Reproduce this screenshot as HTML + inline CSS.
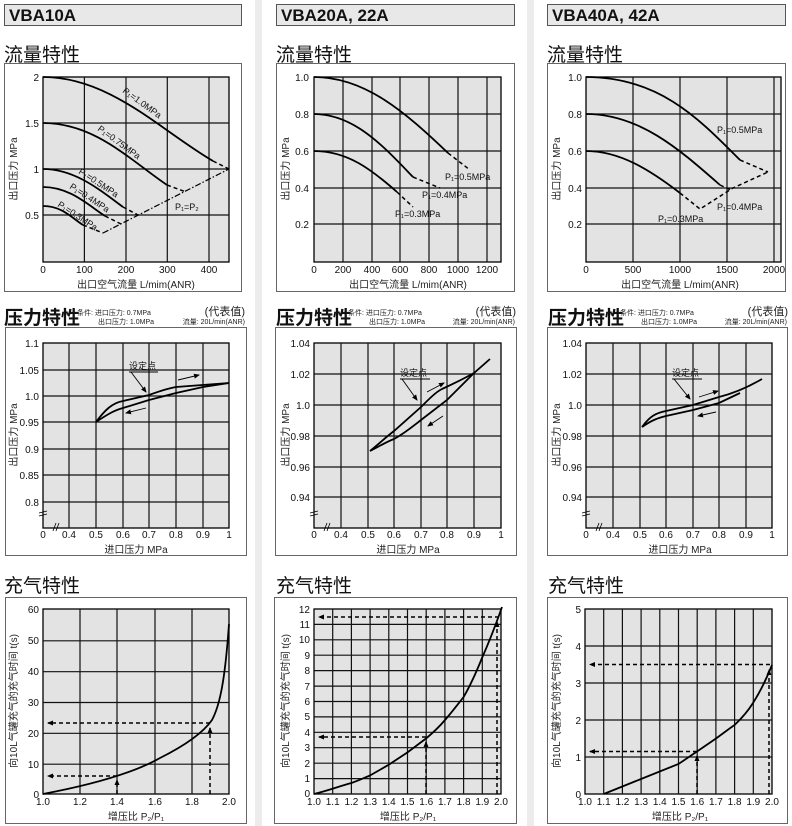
<!DOCTYPE html>
<html><head><meta charset="utf-8"><style>
html,body{margin:0;padding:0;background:#fff;}
svg{display:block;font-family:"Liberation Sans","Noto Sans CJK SC",sans-serif;}
.pf{fill:#e3e3e3;stroke:#000;stroke-width:1.3}
.g{stroke:#111;stroke-width:1.2;fill:none}
.c{stroke:#000;stroke-width:1.8;fill:none}
.d{stroke:#000;stroke-width:1.5;fill:none;stroke-dasharray:4,3}
.t{font-size:10px;fill:#111}
.s{font-size:9px;fill:#111}
.hd{font-size:17px;font-weight:bold;fill:#111}
.ti{font-size:19px;fill:#111;font-family:"Noto Sans CJK SC",sans-serif}
.ax{font-size:10px;fill:#222}
.pan{fill:#fff;stroke:#666;stroke-width:1}
</style></head><body>
<svg width="792" height="826" viewBox="0 0 792 826" xmlns="http://www.w3.org/2000/svg">
<defs><marker id="ah" markerWidth="6" markerHeight="6" refX="5" refY="3" orient="auto" markerUnits="userSpaceOnUse"><path d="M0,0.5 L6,3 L0,5.5 z" fill="#000"/></marker></defs>
<rect x="255" y="0" width="7" height="826" fill="#ececec"/>
<rect x="527" y="0" width="7" height="826" fill="#ececec"/>

<!-- headers -->
<rect x="4.5" y="4.5" width="237" height="21" fill="#e8e8e8" stroke="#555"/>
<text x="9" y="21" class="hd">VBA10A</text>
<rect x="276.5" y="4.5" width="238" height="21" fill="#e8e8e8" stroke="#555"/>
<text x="281" y="21" class="hd">VBA20A, 22A</text>
<rect x="547.5" y="4.5" width="238" height="21" fill="#e8e8e8" stroke="#555"/>
<text x="552" y="21" class="hd">VBA40A, 42A</text>

<text x="4" y="61" class="ti">流量特性</text>
<text x="276" y="61" class="ti">流量特性</text>
<text x="547" y="61" class="ti">流量特性</text>
<text x="4" y="324" class="ti" font-weight="bold" font-size="18px">压力特性</text>
<text x="276" y="324" class="ti" font-weight="bold" font-size="18px">压力特性</text>
<text x="548" y="324" class="ti" font-weight="bold" font-size="18px">压力特性</text>
<text x="4" y="592" class="ti">充气特性</text>
<text x="276" y="592" class="ti">充气特性</text>
<text x="548" y="592" class="ti">充气特性</text>

<!-- ===== TOP ROW ===== -->
<rect x="4.5" y="63.5" width="237" height="228" class="pan"/>
<rect x="276.5" y="63.5" width="238" height="228" class="pan"/>
<rect x="547.5" y="63.5" width="238" height="228" class="pan"/>

<!-- col1 top -->
<rect x="43" y="77" width="186" height="185" class="pf"/>
<path class="g" d="M84.4,77V262M126,77V262M167.3,77V262M209,77V262M43,123H229M43,169H229M43,215H229"/>
<g class="t" text-anchor="end"><text x="39" y="81">2</text><text x="39" y="127">1.5</text><text x="39" y="173">1</text><text x="39" y="219">0.5</text></g>
<g class="t" text-anchor="middle"><text x="43" y="273">0</text><text x="84.4" y="273">100</text><text x="126" y="273">200</text><text x="167.3" y="273">300</text><text x="209" y="273">400</text></g>
<text x="136" y="288" class="ax" text-anchor="middle">出口空气流量 L/mim(ANR)</text>
<text transform="translate(17,169) rotate(-90)" class="ax" text-anchor="middle">出口压力 MPa</text>
<path class="c" d="M43,77 C110,77 160,130 213,161"/><path class="d" d="M213,161 L229,169"/>
<path class="c" d="M43,123 C95,123 130,160 167,185"/><path class="d" d="M167,185 L186,192"/>
<path class="c" d="M43,169 C75,169 100,190 123,207"/><path class="d" d="M123,207 L138,215"/>
<path class="c" d="M43,187 C70,187 88,205 105,216"/><path class="d" d="M105,216 L121,224"/>
<path class="c" d="M43,206 C62,206 72,218 83,225"/><path class="d" d="M83,225 L103,233"/>
<path d="M103,233 L229,169" stroke="#000" stroke-width="1.2" fill="none" stroke-dasharray="6,2,1.5,2"/>
<g class="s">
<text transform="translate(122,92) rotate(36)">P₁=1.0MPa</text>
<text transform="translate(97,130) rotate(36)">P₁=0.75MPa</text>
<text transform="translate(78,173) rotate(33)">P₁=0.5MPa</text>
<text transform="translate(69,188) rotate(33)">P₁=0.4MPa</text>
<text transform="translate(57,206) rotate(33)">P₁=0.3MPa</text>
<text x="175" y="210">P₁=P₂</text>
</g>

<!-- col2 top -->
<rect x="314" y="77" width="187" height="185" class="pf"/>
<path class="g" d="M343,77V262M372,77V262M400,77V262M429,77V262M458,77V262M487,77V262M314,114H501M314,151H501M314,188H501M314,224H501"/>
<g class="t" text-anchor="end"><text x="309" y="81">1.0</text><text x="309" y="118">0.8</text><text x="309" y="155">0.6</text><text x="309" y="192">0.4</text><text x="309" y="228">0.2</text></g>
<g class="t" text-anchor="middle"><text x="314" y="273">0</text><text x="343" y="273">200</text><text x="372" y="273">400</text><text x="400" y="273">600</text><text x="429" y="273">800</text><text x="458" y="273">1000</text><text x="487" y="273">1200</text></g>
<text x="408" y="288" class="ax" text-anchor="middle">出口空气流量 L/mim(ANR)</text>
<text transform="translate(289,169) rotate(-90)" class="ax" text-anchor="middle">出口压力 MPa</text>
<path class="c" d="M314,77 C365,77 405,112 448,153"/><path class="d" d="M448,153 L470,170"/>
<path class="c" d="M314,114 C355,114 385,148 413,177"/><path class="d" d="M413,177 L440,188"/>
<path class="c" d="M314,151 C348,151 372,170 397,192"/><path class="d" d="M397,192 L413,207"/>
<g class="s"><text x="445" y="180">P₁=0.5MPa</text><text x="422" y="198">P₁=0.4MPa</text><text x="395" y="217">P₁=0.3MPa</text></g>

<!-- col3 top -->
<rect x="586" y="77" width="195" height="185" class="pf"/>
<path class="g" d="M633,77V262M680,77V262M727,77V262M774,77V262M586,114H781M586,151H781M586,188H781M586,224H781"/>
<g class="t" text-anchor="end"><text x="582" y="81">1.0</text><text x="582" y="118">0.8</text><text x="582" y="155">0.6</text><text x="582" y="192">0.4</text><text x="582" y="228">0.2</text></g>
<g class="t" text-anchor="middle"><text x="586" y="273">0</text><text x="633" y="273">500</text><text x="680" y="273">1000</text><text x="727" y="273">1500</text><text x="774" y="273">2000</text></g>
<text x="680" y="288" class="ax" text-anchor="middle">出口空气流量 L/mim(ANR)</text>
<text transform="translate(560,169) rotate(-90)" class="ax" text-anchor="middle">出口压力 MPa</text>
<path class="c" d="M586,77 C660,77 700,120 740,160"/><path class="d" d="M740,160 L768,172"/>
<path class="c" d="M586,114 C640,114 680,150 720,185"/><path class="d" d="M720,185 L731,190"/>
<path class="c" d="M586,151 C620,151 650,170 680,193"/><path class="d" d="M680,193 L700,209 L733,188 L768,172"/>
<g class="s"><text x="717" y="133">P₁=0.5MPa</text><text x="717" y="210">P₁=0.4MPa</text><text x="658" y="222">P₁=0.3MPa</text></g>

<!-- ===== MIDDLE ROW ===== -->
<rect x="5.5" y="327.5" width="241" height="228" class="pan"/>
<rect x="275.5" y="327.5" width="241" height="228" class="pan"/>
<rect x="547.5" y="327.5" width="240" height="228" class="pan"/>
<g font-size="7px" fill="#222">
<text x="77" y="315">条件: 进口压力: 0.7MPa</text><text x="98" y="324">出口压力: 1.0MPa</text><text x="245" y="324" text-anchor="end">流量: 20L/min(ANR)</text>
<text x="348" y="315">条件: 进口压力: 0.7MPa</text><text x="369" y="324">出口压力: 1.0MPa</text><text x="515" y="324" text-anchor="end">流量: 20L/min(ANR)</text>
<text x="620" y="315">条件: 进口压力: 0.7MPa</text><text x="641" y="324">出口压力: 1.0MPa</text><text x="787" y="324" text-anchor="end">流量: 20L/min(ANR)</text>
</g>
<g font-size="11px" fill="#222" text-anchor="end"><text x="245" y="315">(代表值)</text><text x="516" y="315">(代表值)</text><text x="788" y="315">(代表值)</text></g>

<!-- col1 mid -->
<rect x="43" y="343" width="186" height="185" class="pf"/>
<path class="g" d="M69,343V528M96,343V528M123,343V528M149,343V528M176,343V528M203,343V528M43,370H229M43,396H229M43,422H229M43,449H229M43,475H229M43,502H229"/>
<g class="t" text-anchor="end" font-size="9px"><text x="39" y="347">1.1</text><text x="39" y="374">1.05</text><text x="39" y="400">1.0</text><text x="39" y="426">0.95</text><text x="39" y="453">0.9</text><text x="39" y="479">0.85</text><text x="39" y="506">0.8</text></g>
<g class="t" text-anchor="middle"><text x="43" y="538">0</text><text x="69" y="538">0.4</text><text x="96" y="538">0.5</text><text x="123" y="538">0.6</text><text x="149" y="538">0.7</text><text x="176" y="538">0.8</text><text x="203" y="538">0.9</text><text x="229" y="538">1</text></g>
<text x="136" y="553" class="ax" text-anchor="middle">进口压力 MPa</text>
<text transform="translate(17,435) rotate(-90)" class="ax" text-anchor="middle">出口压力 MPa</text>
<path class="c" d="M96,422 C105,410 112,403 123,401 L149,395 C160,391 170,388 176,387 L229,383"/>
<path class="c" d="M96,422 C108,414 115,410 123,408 L149,400 L176,393 L203,387 L229,383"/>
<text x="129" y="369" font-size="9px" fill="#111">设定点</text>
<path d="M129,372 H158" stroke="#000" stroke-width="0.9"/>
<path d="M131,372 L146,392" stroke="#000" stroke-width="0.9" marker-end="url(#ah)"/>
<path d="M178,380 L199,375" stroke="#000" stroke-width="0.9" marker-end="url(#ah)"/>
<path d="M146,408 L126,413" stroke="#000" stroke-width="0.9" marker-end="url(#ah)"/>
<path d="M39,513 L47,511 M39,516 L47,514 M53,531 L56,523 M56,531 L59,523" stroke="#000" stroke-width="0.8"/>

<!-- col2 mid -->
<rect x="314" y="343" width="187" height="185" class="pf"/>
<path class="g" d="M341,343V528M368,343V528M394,343V528M421,343V528M447,343V528M474,343V528M314,374H501M314,405H501M314,436H501M314,467H501M314,497H501"/>
<g class="t" text-anchor="end" font-size="9px"><text x="310" y="347">1.04</text><text x="310" y="378">1.02</text><text x="310" y="409">1.0</text><text x="310" y="440">0.98</text><text x="310" y="471">0.96</text><text x="310" y="501">0.94</text></g>
<g class="t" text-anchor="middle"><text x="314" y="538">0</text><text x="341" y="538">0.4</text><text x="368" y="538">0.5</text><text x="394" y="538">0.6</text><text x="421" y="538">0.7</text><text x="447" y="538">0.8</text><text x="474" y="538">0.9</text><text x="501" y="538">1</text></g>
<text x="408" y="553" class="ax" text-anchor="middle">进口压力 MPa</text>
<text transform="translate(289,435) rotate(-90)" class="ax" text-anchor="middle">出口压力 MPa</text>
<path class="c" d="M370,451 C380,443 386,437 394,431 L421,407 C430,398 436,392 442,389 C455,383 465,378 474,373 L490,359"/>
<path class="c" d="M370,451 C380,446 386,442 394,439 C405,433 412,427 421,420 L447,400 L474,373"/>
<text x="400" y="376" font-size="9px" fill="#111">设定点</text>
<path d="M400,379 H430" stroke="#000" stroke-width="0.9"/>
<path d="M402,379 L417,400" stroke="#000" stroke-width="0.9" marker-end="url(#ah)"/>
<path d="M427,392 L444,383" stroke="#000" stroke-width="0.9" marker-end="url(#ah)"/>
<path d="M443,416 L428,426" stroke="#000" stroke-width="0.9" marker-end="url(#ah)"/>
<path d="M310,513 L318,511 M310,516 L318,514 M324,531 L327,523 M327,531 L330,523" stroke="#000" stroke-width="0.8"/>

<!-- col3 mid -->
<rect x="586" y="343" width="186" height="185" class="pf"/>
<path class="g" d="M613,343V528M640,343V528M666,343V528M693,343V528M719,343V528M746,343V528M586,374H772M586,405H772M586,436H772M586,467H772M586,497H772"/>
<g class="t" text-anchor="end" font-size="9px"><text x="582" y="347">1.04</text><text x="582" y="378">1.02</text><text x="582" y="409">1.0</text><text x="582" y="440">0.98</text><text x="582" y="471">0.96</text><text x="582" y="501">0.94</text></g>
<g class="t" text-anchor="middle"><text x="586" y="538">0</text><text x="613" y="538">0.4</text><text x="640" y="538">0.5</text><text x="666" y="538">0.6</text><text x="693" y="538">0.7</text><text x="719" y="538">0.8</text><text x="746" y="538">0.9</text><text x="772" y="538">1</text></g>
<text x="680" y="553" class="ax" text-anchor="middle">进口压力 MPa</text>
<text transform="translate(560,435) rotate(-90)" class="ax" text-anchor="middle">出口压力 MPa</text>
<path class="c" d="M642,427 C650,416 656,413 666,411 L693,405 L719,397 C735,393 750,386 762,379"/>
<path class="c" d="M642,427 C652,420 658,418 666,416 L693,410 L719,403 L740,393"/>
<text x="672" y="376" font-size="9px" fill="#111">设定点</text>
<path d="M672,379 H702" stroke="#000" stroke-width="0.9"/>
<path d="M674,379 L690,399" stroke="#000" stroke-width="0.9" marker-end="url(#ah)"/>
<path d="M699,397 L718,391" stroke="#000" stroke-width="0.9" marker-end="url(#ah)"/>
<path d="M716,412 L698,416" stroke="#000" stroke-width="0.9" marker-end="url(#ah)"/>
<path d="M582,513 L590,511 M582,516 L590,514 M596,531 L599,523 M599,531 L602,523" stroke="#000" stroke-width="0.8"/>

<!-- ===== BOTTOM ROW ===== -->
<rect x="5.5" y="597.5" width="241" height="226" class="pan"/>
<rect x="274.5" y="597.5" width="242" height="226" class="pan"/>
<rect x="547.5" y="597.5" width="240" height="226" class="pan"/>

<!-- col1 bottom -->
<rect x="43" y="609" width="186" height="185" class="pf"/>
<path class="g" d="M80,609V794M117,609V794M155,609V794M192,609V794M43,640.8H229M43,671.7H229M43,702.5H229M43,733.3H229M43,764.2H229"/>
<g class="t" text-anchor="end"><text x="39" y="613">60</text><text x="39" y="644">50</text><text x="39" y="675">40</text><text x="39" y="706">30</text><text x="39" y="737">20</text><text x="39" y="768">10</text><text x="39" y="798">0</text></g>
<g class="t" text-anchor="middle"><text x="43" y="805">1.0</text><text x="80" y="805">1.2</text><text x="117" y="805">1.4</text><text x="155" y="805">1.6</text><text x="192" y="805">1.8</text><text x="229" y="805">2.0</text></g>
<text x="136" y="820" class="ax" text-anchor="middle">增压比 P₂/P₁</text>
<text transform="translate(17,701) rotate(-90)" class="ax" text-anchor="middle">向10L气罐充气的充气时间 t(s)</text>
<path class="c" d="M43,794 C80,787 130,775 160,758 C190,743 205,730 212,720 C220,705 225,680 229,624"/>
<path class="d" d="M210,723 H48" marker-end="url(#ah)"/>
<path class="d" d="M117,776 H48" marker-end="url(#ah)"/>
<path class="d" d="M210,794 V728" marker-end="url(#ah)"/>
<path class="d" d="M117,794 V780" marker-end="url(#ah)"/>

<!-- col2 bottom -->
<rect x="314" y="609" width="187" height="185" class="pf"/>
<path class="g" d="M332.7,609V794M351.4,609V794M370.1,609V794M388.8,609V794M407.5,609V794M426.2,609V794M444.9,609V794M463.6,609V794M482.3,609V794M314,778.6H501M314,763.2H501M314,747.7H501M314,732.3H501M314,716.9H501M314,701.5H501M314,686.1H501M314,670.6H501M314,655.2H501M314,639.8H501M314,624.4H501"/>
<g class="t" text-anchor="end"><text x="310" y="613">12</text><text x="310" y="628">11</text><text x="310" y="643">10</text><text x="310" y="659">9</text><text x="310" y="674">8</text><text x="310" y="690">7</text><text x="310" y="705">6</text><text x="310" y="720">5</text><text x="310" y="736">4</text><text x="310" y="751">3</text><text x="310" y="767">2</text><text x="310" y="782">1</text><text x="310" y="797">0</text></g>
<g class="t" text-anchor="middle" font-size="9.5px"><text x="314" y="805">1.0</text><text x="332.7" y="805">1.1</text><text x="351.4" y="805">1.2</text><text x="370.1" y="805">1.3</text><text x="388.8" y="805">1.4</text><text x="407.5" y="805">1.5</text><text x="426.2" y="805">1.6</text><text x="444.9" y="805">1.7</text><text x="463.6" y="805">1.8</text><text x="482.3" y="805">1.9</text><text x="501" y="805">2.0</text></g>
<text x="408" y="820" class="ax" text-anchor="middle">增压比 P₂/P₁</text>
<text transform="translate(289,701) rotate(-90)" class="ax" text-anchor="middle">向10L气罐充气的充气时间 t(s)</text>
<path class="c" d="M314,794 C330,790 340,786 351.4,783 C360,780 365,777.5 370,775.5 L388.8,764.7 L407.5,752.4 L426,738.5 C435,731 440,726 445,720 C452,712 458,704 463.6,697 C470,686 476,673 482,658 C490,640 496,624 502,607"/>
<path class="d" d="M499,617 H319" marker-end="url(#ah)"/>
<path class="d" d="M426,737 H319" marker-end="url(#ah)"/>
<path class="d" d="M497,794 V622" marker-end="url(#ah)"/>
<path class="d" d="M426,794 V742" marker-end="url(#ah)"/>

<!-- col3 bottom -->
<rect x="585" y="609" width="187" height="185" class="pf"/>
<path class="g" d="M603.7,609V794M622.4,609V794M641.1,609V794M659.8,609V794M678.5,609V794M697.2,609V794M715.9,609V794M734.6,609V794M753.3,609V794M585,757H772M585,720H772M585,683H772M585,646H772"/>
<g class="t" text-anchor="end"><text x="581" y="613">5</text><text x="581" y="650">4</text><text x="581" y="687">3</text><text x="581" y="724">2</text><text x="581" y="761">1</text><text x="581" y="798">0</text></g>
<g class="t" text-anchor="middle" font-size="9.5px"><text x="585" y="805">1.0</text><text x="603.7" y="805">1.1</text><text x="622.4" y="805">1.2</text><text x="641.1" y="805">1.3</text><text x="659.8" y="805">1.4</text><text x="678.5" y="805">1.5</text><text x="697.2" y="805">1.6</text><text x="715.9" y="805">1.7</text><text x="734.6" y="805">1.8</text><text x="753.3" y="805">1.9</text><text x="772" y="805">2.0</text></g>
<text x="680" y="820" class="ax" text-anchor="middle">增压比 P₂/P₁</text>
<text transform="translate(560,701) rotate(-90)" class="ax" text-anchor="middle">向10L气罐充气的充气时间 t(s)</text>
<path class="c" d="M603.7,794 L641,779 L678.5,764 L697,751.5 L716,738.5 C725,732 730,728 734.6,725 C742,718 748,711 753,703 C760,692 766,680 772,665"/>
<path class="d" d="M770,664.5 H590" marker-end="url(#ah)"/>
<path class="d" d="M697,751.5 H590" marker-end="url(#ah)"/>
<path class="d" d="M769,794 V670" marker-end="url(#ah)"/>
<path class="d" d="M697,794 V756" marker-end="url(#ah)"/>
</svg>
</body></html>
